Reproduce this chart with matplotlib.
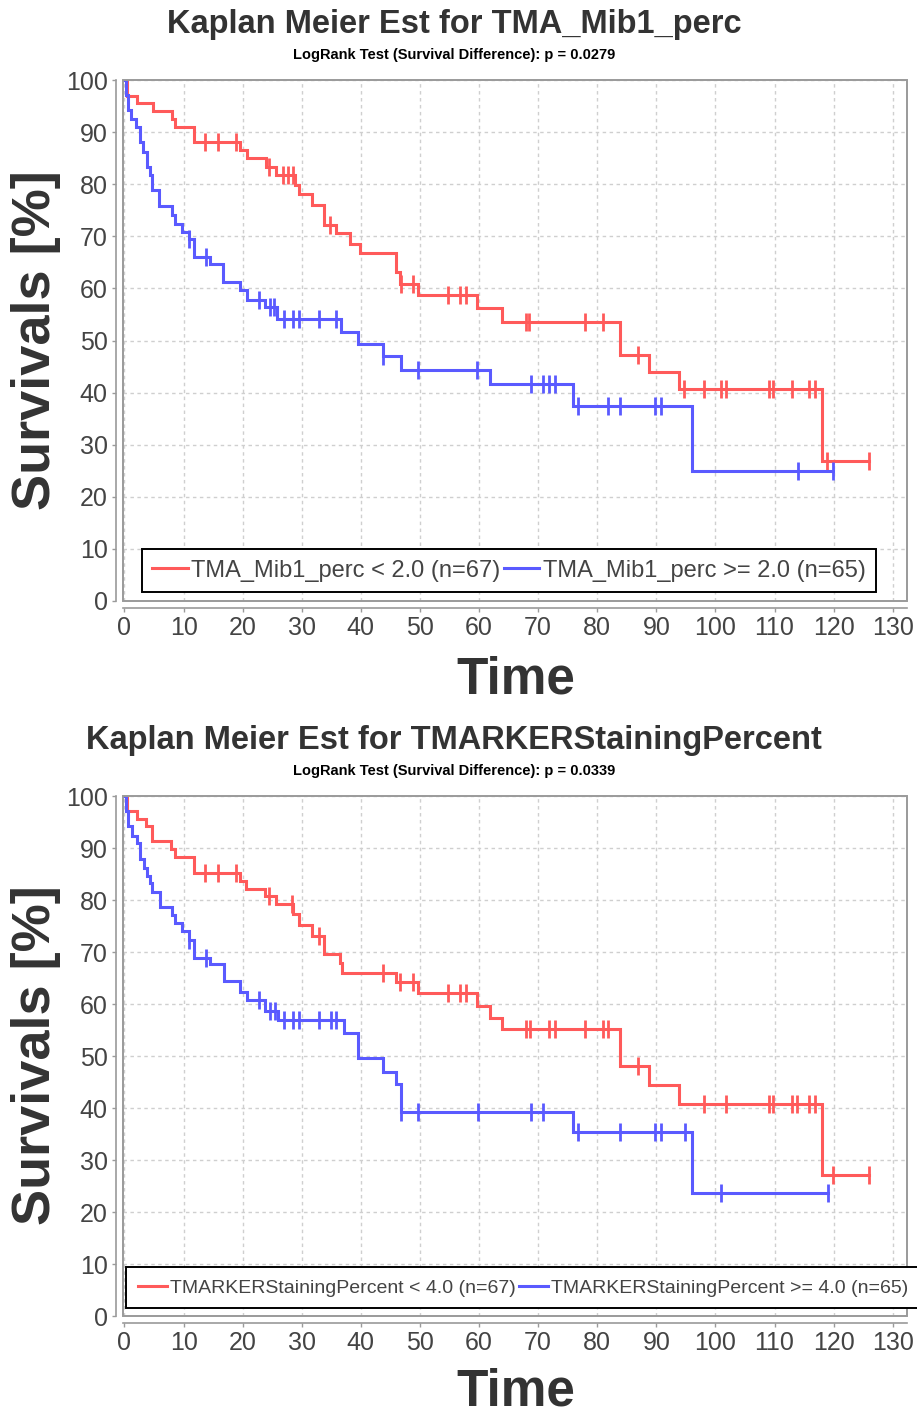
import numpy as np
import matplotlib
matplotlib.use("Agg")
import matplotlib.pyplot as plt
from matplotlib.patches import Rectangle

# ---- data: event times, survival after each event, censor times ----
red1_t = [0.5, 2.1, 4.8, 8.0, 8.6, 11.7, 19.6, 20.8, 24.0, 25.7, 28.8, 29.6, 31.8, 33.7,
          35.8, 38.1, 39.8, 45.9, 46.6, 49.6, 59.7, 63.9, 83.9, 88.8, 93.9, 118.0]
red1_s = [97.0, 95.5, 94.0, 92.5, 91.0, 88.1, 86.5, 85.0, 83.3, 81.7, 79.8, 78.1, 76.0, 72.1,
          70.6, 68.6, 66.7, 63.1, 60.9, 58.8, 56.3, 53.5, 47.3, 44.0, 40.6, 26.9]
red1_c = [13.7, 15.9, 18.9, 24.5, 26.9, 27.7, 28.6, 34.7, 46.8, 48.8, 54.7, 56.7, 57.8, 67.9,
          68.5, 78.0, 80.9, 86.9, 94.6, 98.0, 101.0, 101.8, 109.0, 109.7, 113.0, 115.9,
          116.8, 118.8, 126.0]

blue1_t = [0.2, 0.6, 1.1, 2.0, 2.7, 3.2, 3.8, 4.4, 4.7, 5.8, 8.1, 8.6, 9.7, 10.9, 11.7, 14.4,
           16.6, 19.5, 20.7, 23.7, 25.8, 36.7, 39.5, 43.8, 46.8, 61.8, 75.9, 96.0]
blue1_s = [97.1, 94.2, 92.6, 91.0, 88.1, 86.2, 83.3, 81.7, 78.8, 75.8, 74.0, 72.4, 70.9, 69.4,
           66.0, 64.6, 61.2, 59.6, 57.8, 56.4, 54.2, 51.6, 49.4, 47.1, 44.4, 41.7, 37.5, 24.9]
blue1_c = [10.9, 13.8, 22.8, 24.6, 25.3, 27.0, 28.6, 29.6, 32.9, 35.8, 43.8, 49.7, 59.7, 68.8,
           70.8, 71.8, 72.9, 76.8, 81.8, 83.9, 89.8, 90.8, 113.9, 119.9]

red2_t = [0.5, 2.1, 3.7, 4.6, 7.9, 8.5, 11.7, 19.6, 20.6, 23.7, 25.7, 28.6, 29.6, 31.8, 33.7,
          36.4, 36.8, 45.9, 49.6, 59.7, 61.8, 63.9, 83.9, 88.8, 93.9, 118.0]
red2_s = [97.1, 95.6, 94.2, 91.3, 89.8, 88.3, 85.1, 83.7, 82.1, 80.7, 79.2, 77.3, 75.1, 73.1,
          69.6, 67.9, 66.0, 64.2, 62.2, 59.6, 57.4, 55.1, 48.1, 44.4, 40.7, 27.2]
red2_c = [13.7, 15.9, 18.9, 24.5, 28.4, 33.0, 43.8, 46.7, 48.8, 54.7, 56.7, 57.8, 67.9, 68.7,
          71.9, 72.9, 78.0, 81.0, 81.8, 86.9, 98.0, 101.8, 109.0, 109.7, 113.0, 113.8, 115.9,
          116.8, 119.9, 126.0]

blue2_t = [0.2, 0.6, 1.2, 2.1, 2.7, 3.3, 3.8, 4.3, 4.7, 6.0, 8.1, 8.6, 9.7, 10.9, 11.7, 14.4,
           16.8, 19.6, 20.7, 23.7, 26.0, 37.1, 39.6, 43.8, 45.9, 46.8, 75.9, 96.0]
blue2_s = [97.1, 94.2, 92.4, 91.0, 87.8, 86.2, 84.6, 83.2, 81.5, 78.7, 77.2, 75.6, 74.0, 72.4,
           68.8, 67.6, 64.4, 62.4, 60.7, 58.7, 56.9, 54.5, 49.7, 47.0, 44.7, 39.3, 35.4, 23.6]
blue2_c = [10.9, 13.8, 22.8, 24.6, 25.4, 27.0, 28.6, 29.6, 32.9, 34.9, 35.8, 46.8, 49.7, 59.8,
           68.8, 70.8, 76.8, 83.9, 89.8, 90.8, 94.9, 101.0, 119.0]

titles = ["Kaplan Meier Est for TMA_Mib1_perc", "Kaplan Meier Est for TMARKERStainingPercent"]
subtitles = ["LogRank Test (Survival Difference): p = 0.0279",
             "LogRank Test (Survival Difference): p = 0.0339"]
labels1 = ["TMA_Mib1_perc < 2.0 (n=67)", "TMA_Mib1_perc >= 2.0 (n=65)"]
labels2 = ["TMARKERStainingPercent < 4.0 (n=67)", "TMARKERStainingPercent >= 4.0 (n=65)"]

RED = "#ff5a5a"
BLUE = "#5a5aff"
FONT = ["Liberation Sans", "DejaVu Sans"]
W, H = 917, 1414


def km_curve(ax, t, s, c, color, label):
    # step curve with censor ticks
    end = max(max(t), max(c))
    xs = [0.0] + list(t) + [end]
    ys = [100.0] + list(s) + [s[-1]]
    ax.plot(xs, ys, drawstyle="steps-post", color=color, lw=2.2, label=label,
            solid_joinstyle="miter")
    idx = np.searchsorted(np.array(t), np.array(c), side="right")
    cy = np.array([100.0] + list(s))[idx]
    ax.plot(c, cy, ls="none", marker="|", ms=13, mew=2.0, color=color)


def style_axes(ax):
    ax.set_xlim(-0.25, 132.5)
    ax.set_ylim(0, 100)
    ax.set_xticks(np.arange(0, 131, 10))
    ax.set_yticks(np.arange(0, 101, 10))
    ax.grid(True, color="#cfcfcf", lw=1.0, ls=(0, (2.5, 2.5)))
    ax.set_axisbelow(True)
    for side in ["top", "right"]:
        ax.spines[side].set_visible(False)
    for side in ["left", "bottom"]:
        ax.spines[side].set_position(("outward", 5))
        ax.spines[side].set_color("#9a9a9a")
        ax.spines[side].set_linewidth(1.2)
    ax.add_patch(Rectangle((0, 0), 1, 1, transform=ax.transAxes, fill=False,
                           ec="#9a9a9a", lw=1.4, clip_on=False, zorder=5))
    ax.tick_params(direction="out", length=3, width=1, color="#9a9a9a",
                   labelsize=18, labelcolor="#444444", pad=3)
    for lab in ax.get_xticklabels() + ax.get_yticklabels():
        lab.set_family(FONT)


fig = plt.figure(figsize=(W / 100, H / 100), dpi=100)
ax1 = fig.add_axes([123 / W, 1 - 601 / H, (907.5 - 123) / W, (601 - 80) / H])
ax2 = fig.add_axes([123 / W, 1 - 1316 / H, (907.5 - 123) / W, (1316 - 796) / H])

km_curve(ax1, red1_t, red1_s, red1_c, RED, labels1[0])
km_curve(ax1, blue1_t, blue1_s, blue1_c, BLUE, labels1[1])
km_curve(ax2, red2_t, red2_s, red2_c, RED, labels2[0])
km_curve(ax2, blue2_t, blue2_s, blue2_c, BLUE, labels2[1])

legend_opts = [(ax1, (0.492, 0.017), 17, 0.45, 0.15),
               (ax2, (0.510, 0.015), 14, 0.6, 0.15)]
for ax, anchor, fsize, bpad, cspace in legend_opts:
    style_axes(ax)
    leg = ax.legend(loc="lower center", bbox_to_anchor=anchor, ncol=2, fancybox=False,
                    framealpha=1, edgecolor="black", handlelength=1.5, handletextpad=0.15,
                    columnspacing=cspace, borderpad=bpad, borderaxespad=0,
                    prop={"family": FONT, "size": fsize})
    leg.get_frame().set_linewidth(1.4)
    for txt in leg.get_texts():
        txt.set_color("#444444")

# titles and axis labels
for i, (ty, sy, yl, xl) in enumerate([(24, 55, 340, 680), (740, 771, 1055, 1392)]):
    fig.text(0.495, 1 - ty / H, titles[i], ha="center", va="center", fontsize=23.5,
             fontweight="bold", family=FONT, color="#333333")
    fig.text(0.495, 1 - sy / H, subtitles[i], ha="center", va="center", fontsize=10.5,
             fontweight="bold", family=FONT, color="black")
    fig.text(36 / W, 1 - yl / H, "Survivals [%]", ha="center", va="center", rotation=90,
             fontsize=39, fontweight="bold", family=FONT, color="#333333")
    fig.text(516 / W, 1 - xl / H, "Time", ha="center", va="center", fontsize=37,
             fontweight="bold", family=FONT, color="#333333")

fig.savefig("out.png", dpi=100)
